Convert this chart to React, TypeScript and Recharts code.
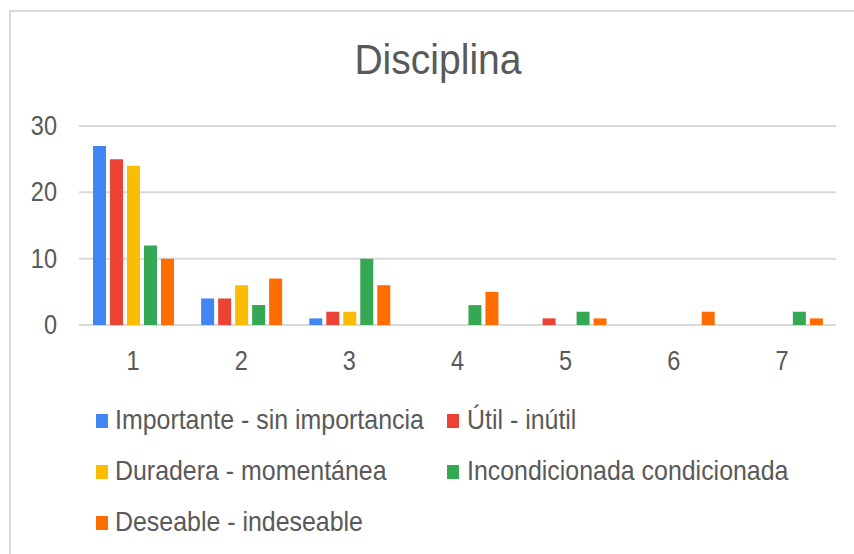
import { BarChart, Bar, XAxis, YAxis, CartesianGrid } from 'recharts'

const categories = ['1', '2', '3', '4', '5', '6', '7']
const importante = [27, 4, 1, 0, 0, 0, 0]
const util = [25, 4, 2, 0, 1, 0, 0]
const duradera = [24, 6, 2, 0, 0, 0, 0]
const incondicionada = [12, 3, 10, 3, 2, 0, 2]
const deseable = [10, 7, 6, 5, 1, 2, 1]
const yTicks = [0, 10, 20, 30]

const series = [
  { key: 'importante', name: 'Importante - sin importancia', color: '#4285F4', values: importante },
  { key: 'util', name: 'Útil - inútil', color: '#EA4335', values: util },
  { key: 'duradera', name: 'Duradera - momentánea', color: '#FBBC04', values: duradera },
  { key: 'incondicionada', name: 'Incondicionada condicionada', color: '#34A853', values: incondicionada },
  { key: 'deseable', name: 'Deseable - indeseable', color: '#FF6D01', values: deseable }
]

const data = categories.map((c, i) => {
  const row: Record<string, string | number> = { name: c }
  series.forEach((s) => {
    row[s.key] = s.values[i]
  })
  return row
})

const FONT = '"Liberation Sans", Arial, sans-serif'
const TEXT = '#595959'

function YTick({ y, payload }: any) {
  return (
    <text transform={`translate(57, ${y + 9}) scale(0.84, 1)`} textAnchor="end" fontSize={28} fontFamily={FONT} fill={TEXT}>
      {payload.value}
    </text>
  )
}

function XTick({ x, payload }: any) {
  return (
    <text transform={`translate(${x}, 370) scale(0.84, 1)`} textAnchor="middle" fontSize={28} fontFamily={FONT} fill={TEXT}>
      {payload.value}
    </text>
  )
}

// legend drawn as plain html, two columns like the original
function LegendBox() {
  return (
    <>
      {series.map((s, i) => {
        const col = i % 2
        const row = Math.floor(i / 2)
        const left = col ? 447 : 96
        const top = 406 + row * 51
        return (
          <div key={s.key} style={{ position: 'absolute', left, top, height: 28 }}>
            <span style={{ position: 'absolute', left: 0, top: 8, width: 12, height: 14, background: s.color }} />
            <span
              style={{
                position: 'absolute',
                left: col ? 20 : 19,
                top: 0,
                fontSize: 28,
                lineHeight: '28px',
                fontFamily: FONT,
                color: TEXT,
                whiteSpace: 'nowrap',
                transform: 'scaleX(0.89)',
                transformOrigin: 'left'
              }}
            >
              {s.name}
            </span>
          </div>
        )
      })}
    </>
  )
}

export default function App() {
  return (
    <div style={{ position: 'absolute', left: 0, top: 0, width: 854, height: 554, background: '#fff', overflow: 'hidden' }}>
      <div
        style={{
          position: 'absolute',
          left: 9,
          top: 10,
          width: 900,
          height: 600,
          borderLeft: '2px solid #dadada',
          borderTop: '2px solid #dadada'
        }}
      />
      <div
        style={{
          position: 'absolute',
          left: 0,
          width: 876,
          top: 39,
          textAlign: 'center',
          fontSize: 42,
          lineHeight: '42px',
          fontFamily: FONT,
          color: TEXT,
          transform: 'scaleX(0.93)'
        }}
      >
        Disciplina
      </div>
      <div style={{ position: 'absolute', left: 0, top: 0 }}>
        <BarChart width={854} height={554} data={data} margin={{ top: 126, right: 18, bottom: 199, left: 0 }} barSize={13} barGap={4}>
          <CartesianGrid vertical={false} stroke="#d9d9d9" strokeWidth={2} />
          <XAxis dataKey="name" axisLine={false} tickLine={false} height={30} tick={<XTick />} interval={0} />
          <YAxis domain={[0, 30]} ticks={yTicks} width={79} axisLine={false} tickLine={false} tick={<YTick />} />
          {series.map((s) => (
            <Bar key={s.key} dataKey={s.key} name={s.name} fill={s.color} isAnimationActive={false} />
          ))}
        </BarChart>
      </div>
      <LegendBox />
    </div>
  )
}
